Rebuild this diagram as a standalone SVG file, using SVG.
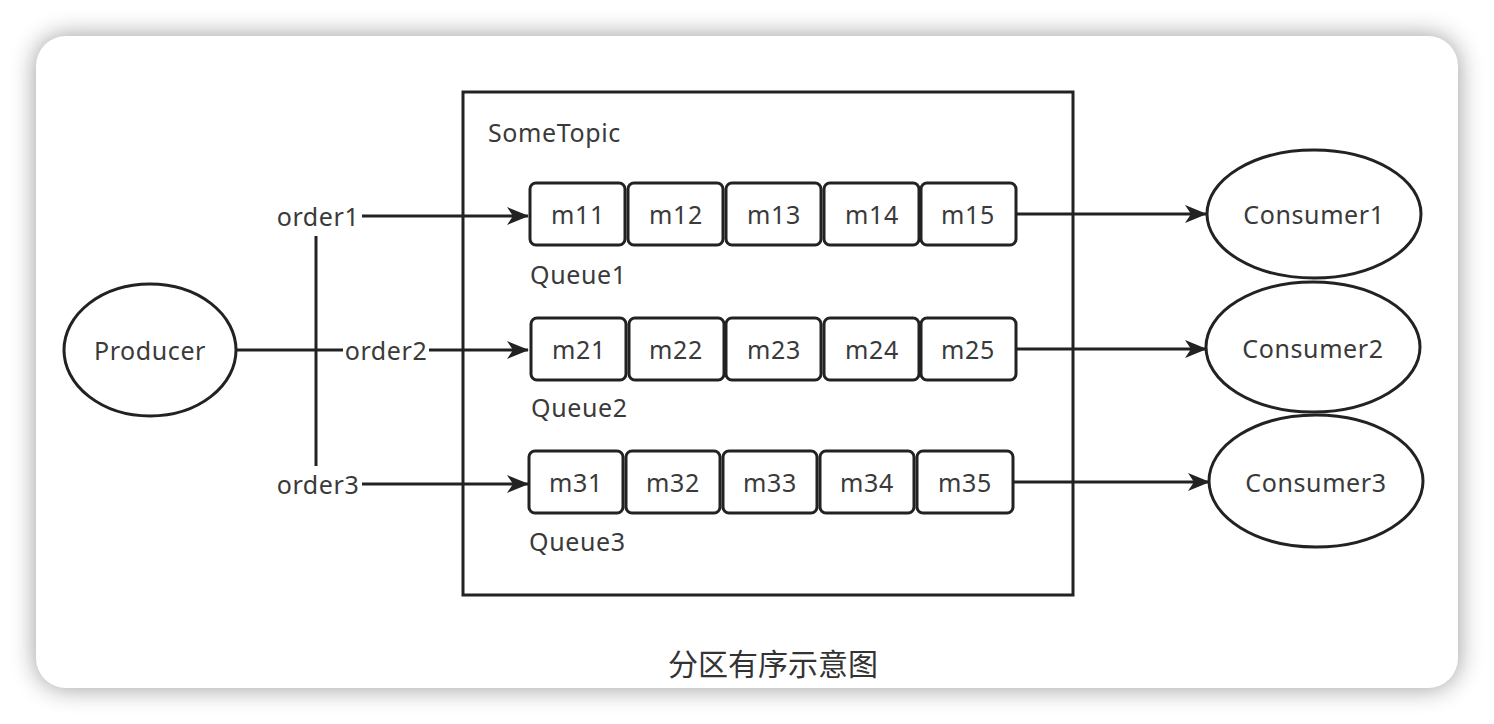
<svg xmlns="http://www.w3.org/2000/svg" width="1494" height="724" viewBox="0 0 1494 724">
<defs>
<filter id="sh" x="-10%" y="-10%" width="120%" height="120%">
<feGaussianBlur stdDeviation="13"/>
</filter>
<marker id="arr" markerWidth="22" markerHeight="18" refX="21" refY="9" orient="auto" markerUnits="userSpaceOnUse">
<path d="M0,0 L22,9 L0,18 L6,9 Z" fill="#222"/>
</marker>
<style>
.t{font-family:"Noto Sans","Noto Sans CJK SC",sans-serif;font-size:25px;letter-spacing:0.6px;fill:#3a3a3a;}
.m{text-anchor:middle;dominant-baseline:central;}
.ln{stroke:#222;stroke-width:3;fill:none;}
.cell{fill:#fff;stroke:#222;stroke-width:3;}
.el{fill:#fff;stroke:#222;stroke-width:3;}
</style>
</defs>
<rect width="1494" height="724" fill="#fff"/>
<rect x="36" y="36" width="1422" height="652" rx="30" fill="#000" opacity="0.4" filter="url(#sh)"/>
<rect x="36" y="36" width="1422" height="652" rx="30" fill="#fff"/>

<g id="topic">
<rect x="463" y="92" width="610" height="503" fill="none" stroke="#222" stroke-width="3"/>
<text class="t" x="488" y="142">SomeTopic</text>
</g>

<g id="connectors">
<line class="ln" x1="236" y1="350" x2="528" y2="350" marker-end="url(#arr)"/>
<line class="ln" x1="316" y1="236" x2="316" y2="466"/>
<line class="ln" x1="316" y1="216" x2="528" y2="216" marker-end="url(#arr)"/>
<line class="ln" x1="316" y1="484" x2="528" y2="484" marker-end="url(#arr)"/>
<line class="ln" x1="1017" y1="214" x2="1206" y2="214" marker-end="url(#arr)"/>
<line class="ln" x1="1017" y1="349" x2="1206" y2="349" marker-end="url(#arr)"/>
<line class="ln" x1="1014" y1="482" x2="1209" y2="482" marker-end="url(#arr)"/>
<rect x="274" y="202" width="88" height="30" fill="#fff"/>
<text class="t m" x="318" y="216">order1</text>
<rect x="343" y="336" width="86" height="30" fill="#fff"/>
<text class="t m" x="386" y="350">order2</text>
<rect x="274" y="470" width="88" height="30" fill="#fff"/>
<text class="t m" x="318" y="484">order3</text>
</g>

<g id="producer">
<ellipse class="el" cx="150" cy="350" rx="86" ry="66"/>
<text class="t m" x="150" y="350">Producer</text>
</g>

<g id="queue1">
<rect class="cell" x="530" y="183" width="95" height="62" rx="6"/>
<rect class="cell" x="628" y="183" width="95" height="62" rx="6"/>
<rect class="cell" x="726" y="183" width="95" height="62" rx="6"/>
<rect class="cell" x="824" y="183" width="95" height="62" rx="6"/>
<rect class="cell" x="921" y="183" width="95" height="62" rx="6"/>
<text class="t m" x="578" y="214">m11</text>
<text class="t m" x="676" y="214">m12</text>
<text class="t m" x="774" y="214">m13</text>
<text class="t m" x="872" y="214">m14</text>
<text class="t m" x="968" y="214">m15</text>
<text class="t" x="530" y="284">Queue1</text>
</g>

<g id="queue2">
<rect class="cell" x="531" y="318" width="95" height="62" rx="6"/>
<rect class="cell" x="629" y="318" width="95" height="62" rx="6"/>
<rect class="cell" x="726" y="318" width="95" height="62" rx="6"/>
<rect class="cell" x="824" y="318" width="95" height="62" rx="6"/>
<rect class="cell" x="921" y="318" width="95" height="62" rx="6"/>
<text class="t m" x="579" y="349">m21</text>
<text class="t m" x="676" y="349">m22</text>
<text class="t m" x="774" y="349">m23</text>
<text class="t m" x="872" y="349">m24</text>
<text class="t m" x="968" y="349">m25</text>
<text class="t" x="531" y="417">Queue2</text>
</g>

<g id="queue3">
<rect class="cell" x="529" y="451" width="94" height="62" rx="6"/>
<rect class="cell" x="626" y="451" width="94" height="62" rx="6"/>
<rect class="cell" x="723" y="451" width="94" height="62" rx="6"/>
<rect class="cell" x="820" y="451" width="94" height="62" rx="6"/>
<rect class="cell" x="917" y="451" width="96" height="62" rx="6"/>
<text class="t m" x="576" y="482">m31</text>
<text class="t m" x="673" y="482">m32</text>
<text class="t m" x="770" y="482">m33</text>
<text class="t m" x="867" y="482">m34</text>
<text class="t m" x="965" y="482">m35</text>
<text class="t" x="529" y="551">Queue3</text>
</g>

<g id="consumer1">
<ellipse class="el" cx="1314" cy="214" rx="107" ry="64"/>
<text class="t m" x="1314" y="214">Consumer1</text>
</g>
<g id="consumer2">
<ellipse class="el" cx="1313" cy="347" rx="107" ry="65"/>
<text class="t m" x="1313" y="348">Consumer2</text>
</g>
<g id="consumer3">
<ellipse class="el" cx="1316" cy="481" rx="107" ry="66"/>
<text class="t m" x="1316" y="482">Consumer3</text>
</g>

<text id="caption" x="773" y="662" text-anchor="middle" dominant-baseline="central" style="font-family:'Noto Sans CJK SC','Noto Sans',sans-serif;font-size:30px;fill:#333;">分区有序示意图</text>
</svg>
